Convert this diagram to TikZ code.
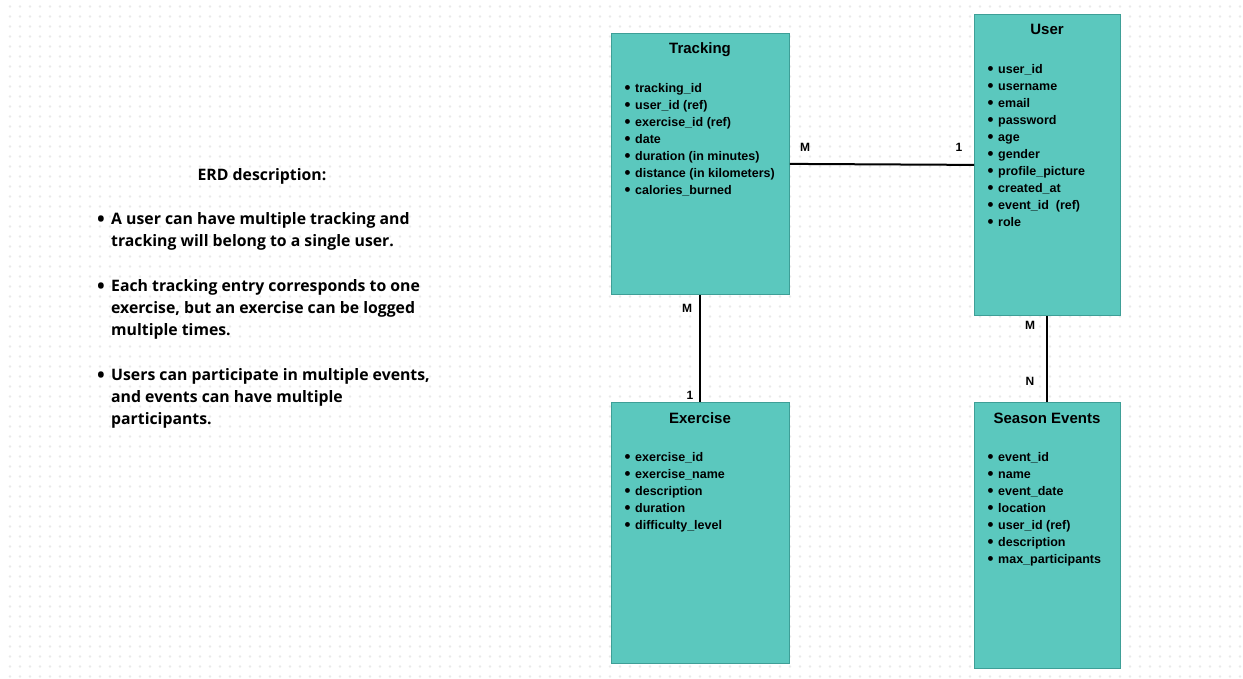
\documentclass[tikz,border=0pt]{standalone}
\usepackage{fontspec}
\setmainfont{Liberation Sans}
\newfontfamily\descfont{Open Sans}
\definecolor{teal1}{HTML}{5BC8BE}
\definecolor{tealb}{HTML}{3E9F97}
\definecolor{dotc}{HTML}{EAEAEA}
\begin{document}
\begin{tikzpicture}[x=1pt,y=-1pt,
 entity/.style={draw=tealb, line width=0.8pt, fill=teal1, inner sep=0, anchor=north west},
 etitle/.style={font=\fontsize{15}{18}\selectfont\bfseries, anchor=base, inner sep=0},
 items/.style={font=\fontsize{12.5}{17}\selectfont\bfseries, align=left, anchor=north west, inner sep=0},
 rel/.style={line width=2pt, black},
 card/.style={font=\fontsize{12}{14}\selectfont\bfseries, inner sep=0},
 desc/.style={font=\descfont\fontsize{15.8}{22}\selectfont\bfseries, align=left, anchor=north west, inner sep=0},
 bul/.style={font=\descfont\fontsize{15.8}{22}\selectfont\bfseries, inner sep=0}]
\newcommand{\bi}{\makebox[10.5pt][l]{\raisebox{-0.9pt}{\scalebox{1.35}{\textbullet}}}}
\newcommand{\bigbul}{\scalebox{1.3}{\textbullet}}
\useasboundingbox (0,0) rectangle (1243,679);
\fill[white] (0,0) rectangle (1243,679);
\foreach \j in {0,...,67}
  \draw[dotc, line width=2.6pt, line cap=round, dash pattern=on 0pt off 10pt] (10,6.5+10*\j) -- (1243,6.5+10*\j);

% entities
\node[entity, minimum width=178pt, minimum height=261pt] (tracking) at (611,33) {};
\node[entity, minimum width=146pt, minimum height=301pt] (user) at (974,14) {};
\node[entity, minimum width=178pt, minimum height=261pt] (exercise) at (611,402) {};
\node[entity, minimum width=146pt, minimum height=266pt] (season) at (974,402) {};

\node[etitle] (trackingT) at (700,53.5) {Tracking};
\node[etitle] (userT) at (1047,34.5) {User};
\node[etitle] (exerciseT) at (700,423.5) {Exercise};
\node[etitle] (seasonT) at (1047,423.5) {Season Events};

\node[items] (trackingI) at (624.5,83.5) {\bi tracking\_id\\\bi user\_id (ref)\\\bi exercise\_id (ref)\\\bi date\\\bi duration (in minutes)\\\bi distance (in kilometers)\\\bi calories\_burned};
\node[items] (userI) at (987.5,64.5) {\bi user\_id\\\bi username\\\bi email\\\bi password\\\bi age\\\bi gender\\\bi profile\_picture\\\bi created\_at\\\bi event\_id~ (ref)\\\bi role};
\node[items] (exerciseI) at (624.5,452.5) {\bi exercise\_id\\\bi exercise\_name\\\bi description\\\bi duration\\\bi difficulty\_level};
\node[items] (seasonI) at (987.5,452.5) {\bi event\_id\\\bi name\\\bi event\_date\\\bi location\\\bi user\_id (ref)\\\bi description\\\bi max\_participants};

% relationships
\draw[rel] (tracking.east) -- (user.west);
\draw[rel] (tracking.south) -- (exercise.north);
\draw[rel] (user.south) -- (season.north);

\node[card] (c1) at (805,147.5) {M};
\node[card] (c2) at (959,147.5) {1};
\node[card] (c3) at (687,308.5) {M};
\node[card] (c4) at (690,395.5) {1};
\node[card] (c5) at (1030,325.5) {M};
\node[card] (c6) at (1030,381.5) {N};

% description
\node[bul] (dtitle) at (262,176) {ERD description:};
\node[bul] (b1dot) at (101,221) {\bigbul};
\node[desc] (b1) at (111,212.5) {A user can have multiple tracking and\\tracking will belong to a single user.};
\node[bul] (b2dot) at (101,288) {\bigbul};
\node[desc] (b2) at (111,279.5) {Each tracking entry corresponds to one\\exercise, but an exercise can be logged\\multiple times.};
\node[bul] (b3dot) at (101,377) {\bigbul};
\node[desc] (b3) at (111,368.5) {Users can participate in multiple events,\\and events can have multiple\\participants.};
\end{tikzpicture}
\end{document}
